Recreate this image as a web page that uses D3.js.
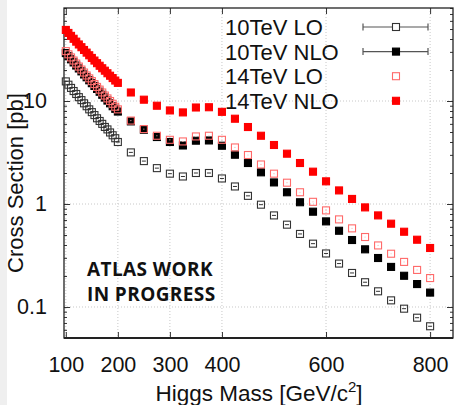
<!DOCTYPE html>
<html>
<head>
<meta charset="utf-8">
<script src="https://cdn.jsdelivr.net/npm/d3@7"></script>
<style>
  body { margin: 0; background: #fff; }
  svg text { font-family: "Liberation Sans", Arial, sans-serif; fill: #111; }
</style>
</head>
<body>
<svg id="chart" width="457" height="405"></svg>
<script>
// Higgs mass points (GeV/c^2)
const masses = [100,105,110,115,120,125,130,135,140,145,150,155,160,165,170,175,180,185,190,195,200,
  225,250,275,300,325,350,375,400,425,450,475,500,525,550,575,600,625,650,675,700,725,750,775,800];

// cross sections in pb
const lo10 = [15.5,14.4,13.4,12.5,11.7,10.9,10.2,9.5,8.9,8.3,7.8,7.3,6.8,6.4,6.0,5.6,5.3,4.95,4.65,4.35,4.0,
  3.17,2.61,2.23,1.97,1.85,2.0,2.0,1.77,1.48,1.2,0.985,0.775,0.63,0.512,0.412,0.331,0.264,0.214,0.174,0.142,0.116,0.0963,0.0787,0.065];
const nlo10 = [29.2,27.2,25.4,23.7,22.1,20.7,19.4,18.1,17.0,15.9,14.9,14.0,13.1,12.3,11.5,10.8,10.1,9.5,8.9,8.4,7.9,
  6.34,5.26,4.47,4.0,3.7,4.12,4.14,3.68,3.01,2.5,2.03,1.62,1.3,1.04,0.842,0.678,0.55,0.447,0.363,0.299,0.245,0.201,0.167,0.138];
const lo14 = [30.5,28.4,26.5,24.7,23.1,21.6,20.2,18.9,17.7,16.6,15.6,14.6,13.7,12.9,12.1,11.3,10.6,10.0,9.4,8.8,8.3,
  6.46,5.34,4.6,4.2,4.05,4.53,4.6,4.2,3.54,2.99,2.42,1.97,1.61,1.30,1.05,0.867,0.709,0.58,0.478,0.396,0.329,0.274,0.229,0.191];
const nlo14 = [49,45.8,42.9,40.2,37.7,35.4,33.3,31.3,29.5,27.8,26.2,24.7,23.3,22.0,20.8,19.7,18.6,17.6,16.7,15.8,15.0,
  12.1,10.3,9.0,8.1,7.75,8.65,8.7,7.85,6.73,5.59,4.6,3.74,3.08,2.5,2.06,1.66,1.355,1.12,0.927,0.775,0.644,0.538,0.45,0.374];

const seriesNames = ["10TeV LO", "10TeV NLO", "14TeV LO", "14TeV NLO"];
const xTicks = [100, 200, 300, 400, 600, 800];
const yTicks = [0.1, 1, 10];
const yMinor = [0.05,0.06,0.07,0.08,0.09,0.2,0.3,0.4,0.5,0.6,0.7,0.8,0.9,2,3,4,5,6,7,8,9,20,30,40,50,60,70,80];

const svg = d3.select("#chart");
const pLeft = 64, pRight = 453, pTop = 8, pBottom = 338;

// gray strip at the very left of the screenshot
svg.append("rect").attr("x", 0).attr("y", 0).attr("width", 7).attr("height", 405).attr("fill", "#efefef");

const x = d3.scaleLinear().domain([96.5, 844]).range([pLeft, pRight]);
const y = d3.scaleLog().domain([0.05, 80]).range([pBottom, pTop]);

// grid
const grid = svg.append("g").attr("stroke", "#c8c8c8").attr("stroke-dasharray", "1,2").attr("stroke-width", 1);
grid.selectAll("line.gx").data(xTicks).enter().append("line")
  .attr("x1", d => x(d)).attr("x2", d => x(d)).attr("y1", pTop).attr("y2", pBottom);
grid.selectAll("line.gy").data(yTicks).enter().append("line")
  .attr("x1", pLeft).attr("x2", pRight).attr("y1", d => y(d)).attr("y2", d => y(d));

function styleAxis(g) {
  g.select(".domain").remove();
  g.selectAll(".tick line").attr("stroke", "#333").attr("stroke-width", 1);
  g.selectAll("text").attr("font-size", "21.5px").attr("fill", "#111")
    .style("font-family", "Liberation Sans, Arial, sans-serif");
}

// axes
svg.append("g").attr("transform", `translate(0,${pBottom})`)
  .call(d3.axisBottom(x).tickValues(xTicks).tickSizeInner(-6).tickSizeOuter(0).tickPadding(19).tickFormat(d3.format("d")))
  .call(styleAxis);
svg.append("g").attr("transform", `translate(0,${pTop})`)
  .call(d3.axisTop(x).tickValues(xTicks).tickSizeInner(-6).tickSizeOuter(0).tickFormat(""))
  .call(styleAxis);
svg.append("g").attr("transform", `translate(${pLeft},0)`)
  .call(d3.axisLeft(y).tickValues(yTicks).tickSizeInner(-6).tickSizeOuter(0).tickPadding(17).tickFormat(d => d < 1 ? d3.format(".1f")(d) : d3.format("d")(d)))
  .call(styleAxis);
svg.append("g").attr("transform", `translate(${pLeft},0)`)
  .call(d3.axisLeft(y).tickValues(yMinor).tickSizeInner(-3).tickSizeOuter(0).tickFormat(""))
  .call(styleAxis);
svg.append("g").attr("transform", `translate(${pRight},0)`)
  .call(d3.axisRight(y).tickValues(yTicks).tickSizeInner(-6).tickSizeOuter(0).tickFormat(""))
  .call(styleAxis);
svg.append("g").attr("transform", `translate(${pRight},0)`)
  .call(d3.axisRight(y).tickValues(yMinor).tickSizeInner(-3).tickSizeOuter(0).tickFormat(""))
  .call(styleAxis);

// frame
svg.append("rect").attr("x", pLeft).attr("y", pTop).attr("width", pRight - pLeft).attr("height", pBottom - pTop)
  .attr("fill", "none").attr("stroke", "#222").attr("stroke-width", 1.3);
svg.append("line").attr("x1", pLeft).attr("x2", pRight).attr("y1", pBottom).attr("y2", pBottom)
  .attr("stroke", "#222").attr("stroke-width", 2);

// point styles
const S = 7;
const styles = [
  { data: lo10, fill: "none", stroke: "#333", bar: true },
  { data: nlo10, fill: "#000", stroke: "#000", bar: true },
  { data: lo14, fill: "none", stroke: "#ff6a6a", dot: true },
  { data: nlo14, fill: "#ff0000", stroke: "#ff0000" }
];

const plot = svg.append("g");
styles.forEach(st => {
  const g = plot.append("g");
  const pts = masses.map((m, i) => [m, st.data[i]]);
  g.selectAll("rect").data(pts).enter().append("rect")
    .attr("x", d => x(d[0]) - S / 2).attr("y", d => y(d[1]) - S / 2)
    .attr("width", S).attr("height", S)
    .attr("fill", st.fill).attr("stroke", st.stroke).attr("stroke-width", 1.1);
  if (st.bar) {
    g.selectAll("line").data(pts).enter().append("line")
      .attr("x1", d => x(d[0]) - 2).attr("x2", d => x(d[0]) + 2)
      .attr("y1", d => y(d[1])).attr("y2", d => y(d[1]))
      .attr("stroke", st.stroke).attr("stroke-width", 1);
  }
  if (st.dot) {
    g.selectAll("circle").data(pts).enter().append("circle")
      .attr("cx", d => x(d[0])).attr("cy", d => y(d[1])).attr("r", 0.6)
      .attr("fill", "#ffb0b0");
  }
});

// legend
const legend = svg.append("g");
seriesNames.forEach((name, i) => {
  const cy = 27 + i * 24.6;
  legend.append("text").attr("x", 225).attr("y", cy + 8).attr("font-size", "22px").text(name);
  const st = styles[i];
  if (st.bar) {
    legend.append("line").attr("x1", 363).attr("x2", 428).attr("y1", cy).attr("y2", cy)
      .attr("stroke", "#555").attr("stroke-width", 1.2);
    [363, 428].forEach(xx => legend.append("line").attr("x1", xx).attr("x2", xx)
      .attr("y1", cy - 3.5).attr("y2", cy + 3.5).attr("stroke", "#555").attr("stroke-width", 1.2));
  }
  legend.append("rect").attr("x", 396 - S / 2).attr("y", cy - S / 2).attr("width", S).attr("height", S)
    .attr("fill", st.fill === "none" ? "#fff" : st.fill).attr("stroke", st.stroke).attr("stroke-width", 1.1);
});

// axis titles
svg.append("text").attr("transform", "translate(23,183) rotate(-90)")
  .attr("text-anchor", "middle").attr("font-size", "22px").text("Cross Section [pb]");
const xt = svg.append("text").attr("x", 259).attr("y", 401).attr("text-anchor", "middle").attr("font-size", "22.5px");
xt.append("tspan").text("Higgs Mass [GeV/c");
xt.append("tspan").attr("dy", -9).attr("font-size", "15px").text("2");
xt.append("tspan").attr("dy", 9).text("]");

// annotation
const note = svg.append("g");
note.append("text").attr("x", 87).attr("y", 276).attr("font-size", "19px").attr("font-weight", 700)
  .attr("letter-spacing", "0.4px").style("font-family", "Open Sans, sans-serif").text("ATLAS WORK");
note.append("text").attr("x", 87).attr("y", 301).attr("font-size", "19px").attr("font-weight", 700)
  .attr("letter-spacing", "0.4px").style("font-family", "Open Sans, sans-serif").text("IN PROGRESS");
</script>
</body>
</html>
